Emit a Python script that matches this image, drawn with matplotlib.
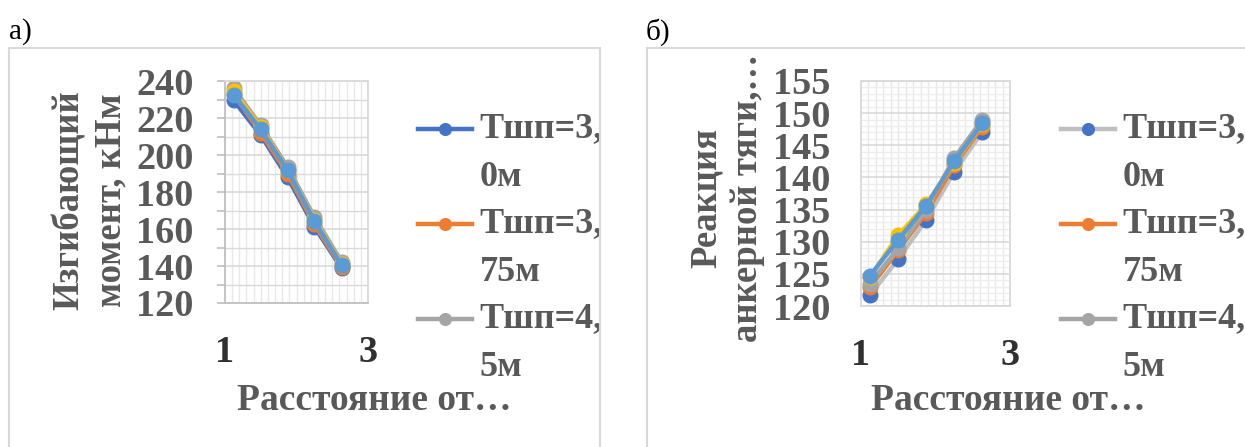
import numpy as np
import matplotlib.pyplot as plt
from matplotlib.legend_handler import HandlerLine2D
from matplotlib.patches import Rectangle
from matplotlib.ticker import MultipleLocator
from matplotlib.transforms import Bbox

plt.rcParams['font.family'] = ['Liberation Serif', 'DejaVu Serif']

# distance from ... (x), same for both charts
dist = [1.12, 1.5, 1.875, 2.25, 2.63]

series_names = ['Тшп=3,\n0м', 'Тшп=3,\n75м', 'Тшп=4,\n5м', 'Тшп=5,\n25м', 'Тшп=6,\n0м']

# а) bending moment, kNm
moment_30 = [229.6, 210.7, 187.9, 161.2, 138.8]
moment_375 = [233.0, 212.0, 190.0, 162.5, 139.5]
moment_45 = [236.0, 216.0, 193.5, 166.5, 142.3]
moment_525 = [234.5, 215.0, 192.0, 165.0, 141.0]
moment_60 = [232.7, 213.9, 191.8, 164.3, 140.5]

# б) anchor tie reaction
react_30 = [121.7, 127.3, 133.4, 140.9, 147.1]
react_375 = [122.9, 128.7, 134.5, 141.9, 147.9]
react_45 = [123.5, 129.0, 135.0, 143.0, 149.0]
react_525 = [124.5, 131.0, 135.8, 142.3, 148.3]
react_60 = [124.7, 130.3, 135.6, 142.5, 148.4]

colors = ['#4472C4', '#ED7D31', '#A5A5A5', '#FFC000', '#5B9BD5']
txt = '#595959'
W, H = 1245, 447

fig = plt.figure(figsize=(W / 100, H / 100), dpi=100)


class FirstLineHandler(HandlerLine2D):
    # put legend line next to the first text line, like excel does
    def create_artists(self, legend, orig_handle, xdescent, ydescent, width, height, fontsize, trans):
        arts = super().create_artists(legend, orig_handle, xdescent, ydescent,
                                      width, height, fontsize, trans)
        for a in arts:
            a.set_ydata(np.asarray(a.get_ydata()) + 17)
        return arts


def frac(x0, y0, x1, y1):
    return [x0 / W, 1 - y1 / H, (x1 - x0) / W, (y1 - y0) / H]


def panel(rect, series, ylim, ymaj, ymin, ylab, ylab_xy, xlab_xy, leg_xy,
          line_colors, clip_x, yminor_grid, tick_len):
    ax = fig.add_axes(frac(*rect))
    handles = []
    for s, c, lc, name in zip(series, colors, line_colors, series_names):
        h, = ax.plot(dist, s, color=lc, lw=3.2, marker='o', ms=10.5,
                     mfc=c, mec=c, label=name)
        handles.append(h)
    ax.set_xlim(1, 3)
    ax.set_ylim(*ylim)
    ax.set_xticks([1, 3])
    ax.xaxis.set_minor_locator(MultipleLocator(0.1))
    ax.yaxis.set_major_locator(MultipleLocator(ymaj))
    ax.yaxis.set_minor_locator(MultipleLocator(ymin))
    ax.grid(True, which='major', axis='y', color='#D9D9D9', lw=1.2)
    ax.grid(True, which='minor', axis='y', color='#D9D9D9' if not yminor_grid else '#EDEDED', lw=1.0)
    ax.grid(True, which='minor', axis='x', color='#E8E8E8', lw=1.0)
    ax.set_axisbelow(True)
    for k, sp in ax.spines.items():
        sp.set_color('#D9D9D9')
        sp.set_linewidth(1.3)
    if tick_len:
        ax.spines['left'].set_color('#BFBFBF')
        ax.spines['bottom'].set_color('#BFBFBF')
    ax.tick_params(axis='y', which='both', length=tick_len, color='#BFBFBF', width=1.2,
                   pad=17 if tick_len else 22, labelsize=27.5, labelcolor=txt)
    ax.tick_params(axis='x', which='both', length=0, pad=23, labelsize=27.5, labelcolor='#303030')
    for lbl in ax.get_yticklabels() + ax.get_xticklabels():
        lbl.set_fontweight('bold')
    fig.text(ylab_xy[0] / W, 1 - ylab_xy[1] / H, ylab, rotation=90, ha='center', va='center',
             fontsize=26.5, fontweight='bold', color=txt, linespacing=1.25)
    fig.text(xlab_xy[0] / W, 1 - xlab_xy[1] / H, 'Расстояние от…', ha='center', va='center',
             fontsize=27, fontweight='bold', color=txt)
    leg = ax.legend(handles=handles[:3], loc='upper left',
                    bbox_to_anchor=(leg_xy[0] / W, 1 - leg_xy[1] / H),
                    bbox_transform=fig.transFigure, frameon=False, fontsize=26,
                    borderpad=0, borderaxespad=0, handlelength=1.5, handletextpad=0.2,
                    labelspacing=0.38, markerscale=0.8,
                    handler_map={h: FirstLineHandler() for h in handles[:3]})
    for t in leg.get_texts():
        t.set_color(txt)
        t.set_fontweight('bold')
        t.set_linespacing(1.62)
        t.set_clip_box(Bbox([[0, 0], [clip_x, H]]))
        t.set_clip_on(True)
    return ax


panel((225, 81, 368, 303), [moment_30, moment_375, moment_45, moment_525, moment_60],
      (120, 240), 20, 10, 'Изгибающий\nмомент, кНм', (90, 200), (374, 400), (418, 112),
      colors, 600, False, 5.8)

panel((861, 81, 1010, 306), [react_30, react_375, react_45, react_525, react_60],
      (120, 155), 5, 1, 'Реакция\nанкерной тяги,…', (727, 198), (1008, 400), (1061, 112),
      ['#BFBFBF'] + colors[1:], W, True, 0)

# chart area borders
fig.add_artist(Rectangle((9 / W, -0.1), (600 - 9) / W, 1.1 - 48 / H, transform=fig.transFigure,
                         fill=False, ec='#D9D9D9', lw=1.5))
fig.add_artist(Rectangle((647 / W, -0.1), 1.0, 1.1 - 48 / H, transform=fig.transFigure,
                         fill=False, ec='#D9D9D9', lw=1.5))

fig.text(9 / W, 1 - 32 / H, 'а)', fontsize=21, color='black', va='center')
fig.text(646 / W, 1 - 32 / H, 'б)', fontsize=21, color='black', va='center')

fig.savefig('out.png', dpi=100)
